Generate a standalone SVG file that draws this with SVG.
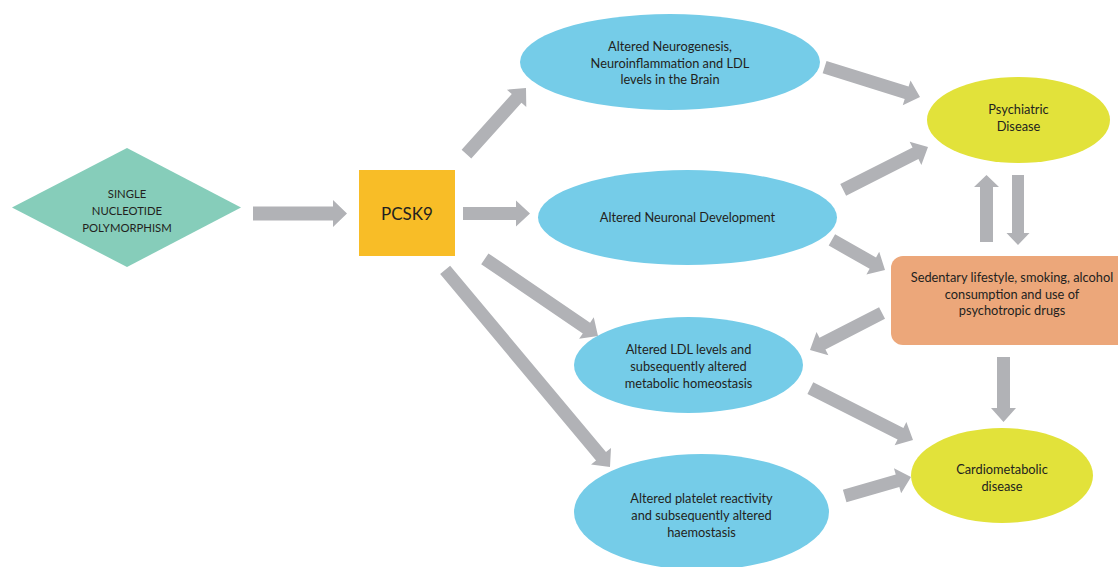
<svg xmlns="http://www.w3.org/2000/svg" width="1118" height="567" viewBox="0 0 1118 567">
<style>
.t{font-family:Lato,"Liberation Sans",sans-serif;font-size:12.8px;fill:#231F20;text-anchor:middle;dominant-baseline:central}
.blue{fill:#75CCE8}
.yel{fill:#E2E23A}
.arr{fill:#B1B2B6}
</style>
<rect width="1118" height="567" fill="#fff"/>
<g id="connectors" class="arr">
<polygon points="-94,-7 -14,-7 -14,-13.5 0,0 -14,13.5 -14,7 -94,7" transform="translate(347,213.5)"/>
<polygon points="-67,-6.5 -14,-6.5 -14,-13 0,0 -14,13 -14,6.5 -67,6.5" transform="translate(530,213.5)"/>
<polygon points="-89,-6.5 -14,-6.5 -14,-13 0,0 -14,13 -14,6.5 -89,6.5" transform="translate(526,88) rotate(-48)"/>
<polygon points="-100,-6.5 -14,-6.5 -14,-13 0,0 -14,13 -14,6.5 -100,6.5" transform="translate(920,97) rotate(17.4)"/>
<polygon points="-95,-6.5 -14,-6.5 -14,-13 0,0 -14,13 -14,6.5 -95,6.5" transform="translate(928,147) rotate(-26.8)"/>
<polygon points="-61,-6.5 -14,-6.5 -14,-13 0,0 -14,13 -14,6.5 -61,6.5" transform="translate(885,270) rotate(29.5)"/>
<polygon points="-81,-6.5 -14,-6.5 -14,-13 0,0 -14,13 -14,6.5 -81,6.5" transform="translate(810,350) rotate(152.8)"/>
<polygon points="-137,-6.5 -14,-6.5 -14,-13 0,0 -14,13 -14,6.5 -137,6.5" transform="translate(598,336) rotate(34.3)"/>
<polygon points="-257,-6.5 -14,-6.5 -14,-13 0,0 -14,13 -14,6.5 -257,6.5" transform="translate(610,467) rotate(50.1)"/>
<polygon points="-115,-6.5 -14,-6.5 -14,-13 0,0 -14,13 -14,6.5 -115,6.5" transform="translate(913,440) rotate(26.8)"/>
<polygon points="-69,-6.5 -14,-6.5 -14,-13 0,0 -14,13 -14,6.5 -69,6.5" transform="translate(911,477) rotate(-16)"/>
<polygon points="-65,-6.5 -14,-6.5 -14,-12.5 0,0 -14,12.5 -14,6.5 -65,6.5" transform="translate(1003.5,422) rotate(90)"/>
<polygon points="-67,-6.5 -12,-6.5 -12,-12.5 0,0 -12,12.5 -12,6.5 -67,6.5" transform="translate(986.5,175) rotate(-90)"/>
<polygon points="-70,-6 -12,-6 -12,-11.5 0,0 -12,11.5 -12,6 -70,6" transform="translate(1018,245) rotate(90)"/>
</g>
<g id="snp">
<polygon points="12,207.5 127,148 241,207.5 127,267" fill="#86CDBA"/>
<text class="t" x="127" y="193" style="font-size:11.3px">SINGLE</text>
<text class="t" x="127" y="210" style="font-size:11.3px">NUCLEOTIDE</text>
<text class="t" x="127" y="227" style="font-size:11.3px">POLYMORPHISM</text>
</g>
<g id="pcsk9">
<rect x="359" y="170" width="96" height="86" fill="#F8BD27"/>
<text class="t" x="407" y="213" style="font-size:17px">PCSK9</text>
</g>
<g id="neurogenesis">
<ellipse class="blue" cx="670" cy="62" rx="150" ry="48"/>
<text class="t" x="670" y="46">Altered Neurogenesis,</text>
<text class="t" x="670" y="62.5">Neuroinflammation and LDL</text>
<text class="t" x="670" y="79">levels in the Brain</text>
</g>
<g id="neuronal">
<ellipse class="blue" cx="687.5" cy="217.5" rx="149.5" ry="47.5"/>
<text class="t" x="687.5" y="217">Altered Neuronal Development</text>
</g>
<g id="ldl">
<ellipse class="blue" cx="688.5" cy="365" rx="114.5" ry="48"/>
<text class="t" x="688.5" y="349">Altered LDL levels and</text>
<text class="t" x="688.5" y="366">subsequently altered</text>
<text class="t" x="688.5" y="383">metabolic homeostasis</text>
</g>
<g id="platelet">
<ellipse class="blue" cx="701.5" cy="512" rx="127.5" ry="58"/>
<text class="t" x="701.5" y="498">Altered platelet reactivity</text>
<text class="t" x="701.5" y="515">and subsequently altered</text>
<text class="t" x="701.5" y="532">haemostasis</text>
</g>
<g id="psychiatric">
<ellipse class="yel" cx="1018.5" cy="120" rx="91.5" ry="43"/>
<text class="t" x="1018.5" y="109">Psychiatric</text>
<text class="t" x="1018.5" y="126">Disease</text>
</g>
<g id="lifestyle">
<rect x="891" y="256" width="240" height="89" rx="12" fill="#ECA77A"/>
<text class="t" x="1012" y="277">Sedentary lifestyle, smoking, alcohol</text>
<text class="t" x="1012" y="294">consumption and use of</text>
<text class="t" x="1012" y="310">psychotropic drugs</text>
</g>
<g id="cardiometabolic">
<ellipse class="yel" cx="1002" cy="475.5" rx="91" ry="47.5"/>
<text class="t" x="1002" y="469">Cardiometabolic</text>
<text class="t" x="1002" y="486">disease</text>
</g>
</svg>
